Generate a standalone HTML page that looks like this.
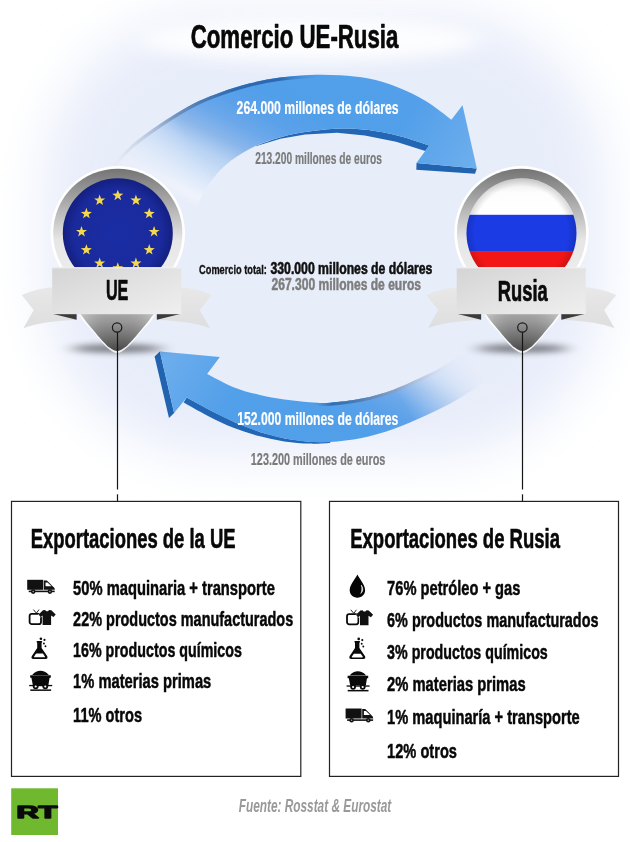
<!DOCTYPE html>
<html lang="es"><head><meta charset="utf-8"><title>Comercio UE-Rusia</title>
<style>
html,body{margin:0;padding:0;background:#fff;}
body{width:630px;height:842px;overflow:hidden;font-family:"Liberation Sans",sans-serif;}
svg{display:block;}
text{white-space:pre;}
</style></head><body>
<svg width="630" height="842" viewBox="0 0 630 842" font-family="'Liberation Sans', sans-serif">
<defs>
<radialGradient id="bg" cx="0" cy="0" r="1" gradientUnits="userSpaceOnUse" gradientTransform="translate(328 216) scale(295 268)">
<stop offset="0" stop-color="#e7ecf9"/><stop offset="0.6" stop-color="#e9eefa"/><stop offset="0.8" stop-color="#f0f3fb"/><stop offset="0.93" stop-color="#fafbfe"/><stop offset="1" stop-color="#ffffff"/>
</radialGradient>
<filter id="blur4" x="-50%" y="-300%" width="200%" height="700%"><feGaussianBlur stdDeviation="8 3"/></filter>
<filter id="blur12" x="-50%" y="-100%" width="200%" height="300%"><feGaussianBlur stdDeviation="12 8"/></filter>
<linearGradient id="tail" x1="0" y1="0" x2="0" y2="1"><stop offset="0" stop-color="#e8e8e8"/><stop offset="1" stop-color="#dedede"/></linearGradient>
<linearGradient id="pinbody" x1="0" y1="310" x2="0" y2="351" gradientUnits="userSpaceOnUse"><stop offset="0" stop-color="#bdbdbd"/><stop offset="0.3" stop-color="#a2a2a2"/><stop offset="0.7" stop-color="#747474"/><stop offset="1" stop-color="#4e4e4e"/></linearGradient>
<linearGradient id="ring" x1="0" y1="0" x2="0" y2="1"><stop offset="0" stop-color="#747474"/><stop offset="0.25" stop-color="#a8a8a8"/><stop offset="0.55" stop-color="#e6e6e6"/><stop offset="1" stop-color="#f2f2f2"/></linearGradient>
<radialGradient id="eublue" cx="0.5" cy="0.5" r="0.5"><stop offset="0" stop-color="#1b2da4"/><stop offset="0.8" stop-color="#1a2a9c"/><stop offset="1" stop-color="#141f80"/></radialGradient>
<radialGradient id="rushade" cx="0.5" cy="0.5" r="0.5"><stop offset="0.85" stop-color="#000" stop-opacity="0"/><stop offset="1" stop-color="#000" stop-opacity="0.15"/></radialGradient>
<linearGradient id="ruwhite" x1="0" y1="0" x2="0" y2="1"><stop offset="0" stop-color="#e4e4e4"/><stop offset="0.4" stop-color="#fdfdfd"/><stop offset="1" stop-color="#fff"/></linearGradient>
<linearGradient id="banner" x1="0" y1="0" x2="1" y2="1"><stop offset="0" stop-color="#d4d4d4"/><stop offset="0.5" stop-color="#e2e2e2"/><stop offset="1" stop-color="#efefef"/></linearGradient>
<clipPath id="ruclip"><circle cx="521.5" cy="233.3" r="55"/></clipPath>
<linearGradient id="a1" x1="150" y1="186.1" x2="238.9" y2="8.4" gradientUnits="userSpaceOnUse"><stop offset="0" stop-color="#fff" stop-opacity="0"/><stop offset="0.05" stop-color="#fff" stop-opacity="0.5"/><stop offset="0.1" stop-color="#e4eefb" stop-opacity="0.9"/><stop offset="0.29" stop-color="#b4d0f2"/><stop offset="0.38" stop-color="#8ab6ea"/><stop offset="0.475" stop-color="#6ba8ea"/><stop offset="0.565" stop-color="#5ba1e9"/><stop offset="0.675" stop-color="#529fe9"/><stop offset="1" stop-color="#539fea"/></linearGradient>
<linearGradient id="a1d" x1="105" y1="0" x2="325" y2="0" gradientUnits="userSpaceOnUse"><stop offset="0" stop-color="#b0b8c8" stop-opacity="0"/><stop offset="0.1" stop-color="#a8b2c6" stop-opacity="0.6"/><stop offset="0.25" stop-color="#879fc4" stop-opacity="0.9"/><stop offset="0.42" stop-color="#4f7db4"/><stop offset="0.6" stop-color="#2c69b2"/><stop offset="0.8" stop-color="#2c69b2"/><stop offset="1" stop-color="#4c9be8" stop-opacity="0"/></linearGradient>
<linearGradient id="a2" x1="480" y1="334.4" x2="391.1" y2="512.1" gradientUnits="userSpaceOnUse"><stop offset="0" stop-color="#fff" stop-opacity="0"/><stop offset="0.05" stop-color="#fff" stop-opacity="0.5"/><stop offset="0.1" stop-color="#e4eefb" stop-opacity="0.9"/><stop offset="0.29" stop-color="#b4d0f2"/><stop offset="0.38" stop-color="#8ab6ea"/><stop offset="0.475" stop-color="#6ba8ea"/><stop offset="0.565" stop-color="#5ba1e9"/><stop offset="0.675" stop-color="#529fe9"/><stop offset="1" stop-color="#539fea"/></linearGradient>
<linearGradient id="a2d" x1="452" y1="0" x2="310" y2="0" gradientUnits="userSpaceOnUse"><stop offset="0" stop-color="#b0b8c8" stop-opacity="0"/><stop offset="0.2" stop-color="#a4b0c6" stop-opacity="0.55"/><stop offset="0.45" stop-color="#7f9ac2" stop-opacity="0.9"/><stop offset="0.65" stop-color="#4f7db4"/><stop offset="0.85" stop-color="#2f6db5"/><stop offset="1" stop-color="#4c9be8" stop-opacity="0"/></linearGradient>
<linearGradient id="hl1" x1="405" y1="120" x2="475" y2="165" gradientUnits="userSpaceOnUse"><stop offset="0" stop-color="#fff" stop-opacity="0"/><stop offset="1" stop-color="#fff" stop-opacity="0.16"/></linearGradient>
<linearGradient id="hl2" x1="230" y1="400" x2="162" y2="356" gradientUnits="userSpaceOnUse"><stop offset="0" stop-color="#fff" stop-opacity="0"/><stop offset="1" stop-color="#fff" stop-opacity="0.16"/></linearGradient>
<linearGradient id="mg1" x1="118" y1="188" x2="190" y2="140" gradientUnits="userSpaceOnUse"><stop offset="0" stop-color="#000"/><stop offset="1" stop-color="#fff"/></linearGradient>
<linearGradient id="mg2" x1="478" y1="368" x2="408" y2="411" gradientUnits="userSpaceOnUse"><stop offset="0" stop-color="#000"/><stop offset="1" stop-color="#fff"/></linearGradient>
<mask id="m1" maskUnits="userSpaceOnUse" x="0" y="0" width="630" height="520"><rect width="630" height="520" fill="url(#mg1)"/></mask>
<mask id="m2" maskUnits="userSpaceOnUse" x="0" y="0" width="630" height="520"><rect width="630" height="520" fill="url(#mg2)"/></mask>
<linearGradient id="pinside" x1="0" y1="0" x2="1" y2="0"><stop offset="0" stop-color="#fff" stop-opacity="0.25"/><stop offset="0.45" stop-color="#000" stop-opacity="0.08"/><stop offset="0.55" stop-color="#000" stop-opacity="0.08"/><stop offset="1" stop-color="#fff" stop-opacity="0.2"/></linearGradient>
<filter id="blur22" x="-20%" y="-20%" width="140%" height="140%"><feGaussianBlur stdDeviation="25"/></filter>
<clipPath id="bgclip"><rect x="0" y="0" width="630" height="560"/></clipPath>
</defs>
<rect width="630" height="842" fill="#fff"/>
<g clip-path="url(#bgclip)"><rect x="44" y="12" width="560" height="444" rx="170" ry="170" fill="#e8edfa" filter="url(#blur22)"/></g>
<ellipse cx="310" cy="40" rx="170" ry="22" fill="#fff" opacity="0.9" filter="url(#blur12)"/>

<g mask="url(#m1)">
<path d="M429.2,145.5 C424.3,143.9 410.1,138.8 400,136.2 C389.9,133.6 378.6,131.3 368.6,130 C358.6,128.7 350.3,128.2 340,128.5 C329.7,128.8 316.7,130.4 307,131.8 C297.3,133.2 290.1,134.7 281.6,137 C273.1,139.3 260.4,144.2 256.2,145.6 L255.7,146.3 L280.4,138.7 L305,134.6 L337.1,132.7 L364.8,135.4 L396.1,141.7 L425.3,151 Z" fill="#2266b4"/>
<path d="M416.5,162.9 L476.8,168.6 L475,173.8 L416.3,169.8 Z" fill="#2163ae"/>
<path d="M100,178 C102.8,175 111.3,165.6 116.7,160 C122.1,154.4 125.9,149.8 132.2,144.4 C138.5,139 147,133 154.4,127.8 C161.8,122.6 169.3,117.8 176.7,113.3 C184.1,108.8 191.5,104.6 198.9,101.1 C206.3,97.6 212.6,95.2 221.1,92.2 C229.6,89.2 240.2,85.7 250,83.3 C259.8,80.9 270,79 280,77.6 C290,76.2 300,75.4 310,75 C320,74.6 330.2,74.7 340,75.3 C349.8,75.9 359.1,76.6 368.6,78.6 C378.1,80.5 387.5,83.3 397,87 C406.5,90.7 416.6,95.5 425.7,101 C434.8,106.5 447.1,116.6 451.4,119.7 L462.5,105.3 L476.8,168.6 L416.5,162.9 L429.2,145.5 C424.3,143.9 410.1,138.8 400,136.2 C389.9,133.6 378.6,131.3 368.6,130 C358.6,128.7 350.3,128.2 340,128.5 C329.7,128.8 316.7,130.4 307,131.8 C297.3,133.2 290.1,134.7 281.6,137 C273.1,139.3 264.7,141.6 256.2,145.6 C247.7,149.6 238,155.3 230.8,160.8 C223.6,166.3 218.1,172.2 213,178.6 C207.9,184.9 204.1,191.3 200.3,198.9 C196.5,206.5 192.6,216.3 190,224 C187.4,231.7 185.8,241.5 185,245 Z" fill="url(#a1)"/>
<clipPath id="cs1"><path d="M100,178 C102.8,175 111.3,165.6 116.7,160 C122.1,154.4 125.9,149.8 132.2,144.4 C138.5,139 147,133 154.4,127.8 C161.8,122.6 169.3,117.8 176.7,113.3 C184.1,108.8 191.5,104.6 198.9,101.1 C206.3,97.6 212.6,95.2 221.1,92.2 C229.6,89.2 240.2,85.7 250,83.3 C259.8,80.9 270,79 280,77.6 C290,76.2 300,75.4 310,75 C320,74.6 330.2,74.7 340,75.3 C349.8,75.9 359.1,76.6 368.6,78.6 C378.1,80.5 387.5,83.3 397,87 C406.5,90.7 416.6,95.5 425.7,101 C434.8,106.5 447.1,116.6 451.4,119.7 L462.5,105.3 L476.8,168.6 L416.5,162.9 L429.2,145.5 C424.3,143.9 410.1,138.8 400,136.2 C389.9,133.6 378.6,131.3 368.6,130 C358.6,128.7 350.3,128.2 340,128.5 C329.7,128.8 316.7,130.4 307,131.8 C297.3,133.2 290.1,134.7 281.6,137 C273.1,139.3 264.7,141.6 256.2,145.6 C247.7,149.6 238,155.3 230.8,160.8 C223.6,166.3 218.1,172.2 213,178.6 C207.9,184.9 204.1,191.3 200.3,198.9 C196.5,206.5 192.6,216.3 190,224 C187.4,231.7 185.8,241.5 185,245 Z"/></clipPath>
<path d="M100,178 C102.8,175 111.3,165.6 116.7,160 C122.1,154.4 125.9,149.8 132.2,144.4 C138.5,139 147,133 154.4,127.8 C161.8,122.6 169.3,117.8 176.7,113.3 C184.1,108.8 191.5,104.6 198.9,101.1 C206.3,97.6 212.6,95.2 221.1,92.2 C229.6,89.2 240.2,85.7 250,83.3 C259.8,80.9 270,79 280,77.6 C290,76.2 300,75.4 310,75 C320,74.6 335,75.2 340,75.3" fill="none" stroke="url(#a1d)" stroke-width="6.4" clip-path="url(#cs1)"/>
<path d="M100,178 C102.8,175 111.3,165.6 116.7,160 C122.1,154.4 125.9,149.8 132.2,144.4 C138.5,139 147,133 154.4,127.8 C161.8,122.6 169.3,117.8 176.7,113.3 C184.1,108.8 191.5,104.6 198.9,101.1 C206.3,97.6 212.6,95.2 221.1,92.2 C229.6,89.2 240.2,85.7 250,83.3 C259.8,80.9 270,79 280,77.6 C290,76.2 300,75.4 310,75 C320,74.6 330.2,74.7 340,75.3 C349.8,75.9 359.1,76.6 368.6,78.6 C378.1,80.5 387.5,83.3 397,87 C406.5,90.7 416.6,95.5 425.7,101 C434.8,106.5 447.1,116.6 451.4,119.7 L462.5,105.3 L476.8,168.6 L416.5,162.9 L429.2,145.5 C424.3,143.9 410.1,138.8 400,136.2 C389.9,133.6 378.6,131.3 368.6,130 C358.6,128.7 350.3,128.2 340,128.5 C329.7,128.8 316.7,130.4 307,131.8 C297.3,133.2 290.1,134.7 281.6,137 C273.1,139.3 264.7,141.6 256.2,145.6 C247.7,149.6 238,155.3 230.8,160.8 C223.6,166.3 218.1,172.2 213,178.6 C207.9,184.9 204.1,191.3 200.3,198.9 C196.5,206.5 192.6,216.3 190,224 C187.4,231.7 185.8,241.5 185,245 Z" fill="url(#hl1)"/>
</g>
<g mask="url(#m2)">
<path d="M330,442.9 C326.6,443 317.3,443.9 309.7,443.6 C302.1,443.4 292.8,442.7 284.3,441.4 C275.8,440.1 267.4,438.3 258.9,436 C250.4,433.7 242,431.1 233.5,427.8 C225,424.5 216.3,420.2 208,416 C199.7,411.8 187.7,404.8 183.6,402.6 L186.7,397.4 L211.1,410.8 L236.3,423.1 L261.1,432.4 L285.9,438.8 L310.7,442 L330.5,442.1 Z" fill="#2266b4"/>
<path d="M159.9,351.4 L154.6,356.5 L169,417.9 L174.1,413 Z" fill="#2163ae"/>
<path d="M462,354 L505,365 C501.2,367.9 490.4,376.6 482.4,382.4 C474.4,388.2 466.5,394.2 457,399.8 C447.5,405.4 435.8,410.8 425.2,415.7 C414.6,420.6 404.1,425.3 393.5,429 C382.9,432.7 372.2,435.8 361.7,438 C351.2,440.2 339,441.4 330.5,442.1 C322,442.8 318.1,442.5 310.7,442 C303.2,441.4 294.1,440.4 285.9,438.8 C277.6,437.2 269.3,435 261.1,432.4 C252.8,429.8 244.6,426.7 236.3,423.1 C228,419.5 219.4,415.1 211.1,410.8 C202.9,406.5 190.8,399.6 186.7,397.4 L174.1,413 L159.9,351.4 L219.8,357.1 L207.1,374 C211.5,376.2 224.9,383.7 233.5,387.2 C242.1,390.7 250.4,392.7 258.9,394.8 C267.4,396.9 275.8,398.4 284.3,399.6 C292.8,400.8 302.1,401.7 309.7,402.2 C317.3,402.7 321.3,403.3 330,402.7 C338.7,402.1 351.1,400.8 361.7,398.6 C372.3,396.4 382.9,393.6 393.5,389.7 C404.1,385.8 417.3,379.2 425.2,375.5 C433.1,371.8 434.9,371.1 441,367.5 C447.1,363.9 458.5,356.2 462,354 Z" fill="url(#a2)"/>
<clipPath id="cs2"><path d="M462,354 L505,365 C501.2,367.9 490.4,376.6 482.4,382.4 C474.4,388.2 466.5,394.2 457,399.8 C447.5,405.4 435.8,410.8 425.2,415.7 C414.6,420.6 404.1,425.3 393.5,429 C382.9,432.7 372.2,435.8 361.7,438 C351.2,440.2 339,441.4 330.5,442.1 C322,442.8 318.1,442.5 310.7,442 C303.2,441.4 294.1,440.4 285.9,438.8 C277.6,437.2 269.3,435 261.1,432.4 C252.8,429.8 244.6,426.7 236.3,423.1 C228,419.5 219.4,415.1 211.1,410.8 C202.9,406.5 190.8,399.6 186.7,397.4 L174.1,413 L159.9,351.4 L219.8,357.1 L207.1,374 C211.5,376.2 224.9,383.7 233.5,387.2 C242.1,390.7 250.4,392.7 258.9,394.8 C267.4,396.9 275.8,398.4 284.3,399.6 C292.8,400.8 302.1,401.7 309.7,402.2 C317.3,402.7 321.3,403.3 330,402.7 C338.7,402.1 351.1,400.8 361.7,398.6 C372.3,396.4 382.9,393.6 393.5,389.7 C404.1,385.8 417.3,379.2 425.2,375.5 C433.1,371.8 434.9,371.1 441,367.5 C447.1,363.9 458.5,356.2 462,354 Z"/></clipPath>
<path d="M284.3,399.6 C288.5,400 302.1,401.7 309.7,402.2 C317.3,402.7 321.3,403.3 330,402.7 C338.7,402.1 351.1,400.8 361.7,398.6 C372.3,396.4 382.9,393.6 393.5,389.7 C404.1,385.8 417.3,379.2 425.2,375.5 C433.1,371.8 434.9,371.1 441,367.5 C447.1,363.9 458.5,356.2 462,354" fill="none" stroke="url(#a2d)" stroke-width="6" clip-path="url(#cs2)"/>
<path d="M462,354 L505,365 C501.2,367.9 490.4,376.6 482.4,382.4 C474.4,388.2 466.5,394.2 457,399.8 C447.5,405.4 435.8,410.8 425.2,415.7 C414.6,420.6 404.1,425.3 393.5,429 C382.9,432.7 372.2,435.8 361.7,438 C351.2,440.2 339,441.4 330.5,442.1 C322,442.8 318.1,442.5 310.7,442 C303.2,441.4 294.1,440.4 285.9,438.8 C277.6,437.2 269.3,435 261.1,432.4 C252.8,429.8 244.6,426.7 236.3,423.1 C228,419.5 219.4,415.1 211.1,410.8 C202.9,406.5 190.8,399.6 186.7,397.4 L174.1,413 L159.9,351.4 L219.8,357.1 L207.1,374 C211.5,376.2 224.9,383.7 233.5,387.2 C242.1,390.7 250.4,392.7 258.9,394.8 C267.4,396.9 275.8,398.4 284.3,399.6 C292.8,400.8 302.1,401.7 309.7,402.2 C317.3,402.7 321.3,403.3 330,402.7 C338.7,402.1 351.1,400.8 361.7,398.6 C372.3,396.4 382.9,393.6 393.5,389.7 C404.1,385.8 417.3,379.2 425.2,375.5 C433.1,371.8 434.9,371.1 441,367.5 C447.1,363.9 458.5,356.2 462,354 Z" fill="url(#hl2)"/>
</g>
<g>
<ellipse cx="117.1" cy="348.5" rx="46" ry="4" fill="#000" opacity="0.5" filter="url(#blur4)"/>
<path d="M52.7,287.3 Q36.7,288.5 21.7,295 L33.7,310 L23.4,328.3 Q41.7,321 76.4,320 L76.4,300 Z" fill="url(#tail)"/>
<path d="M180.7,287.3 Q196.7,288.5 211.7,295 L199.7,310 L210,328.3 Q191.7,321 157,320 L157,300 Z" fill="url(#tail)"/>
<path d="M77.5,310.7 C78.4,312.3 80.8,317.5 82.9,320.5 C85,323.5 87.7,326 90,328.6 C92.3,331.2 94.6,333.6 96.7,336 C98.7,338.4 100.3,340.8 102.5,343.1 C104.6,345.4 106.9,347.9 109.4,349.6 C111.8,351.3 114.5,353.2 117.1,353.2 C119.7,353.2 122.4,351.3 124.8,349.6 C127.3,347.9 129.6,345.4 131.7,343.1 C133.9,340.8 135.5,338.4 137.5,336 C139.6,333.6 141.9,331.2 144.2,328.6 C146.5,326 149.2,323.5 151.3,320.5 C153.4,317.5 155.8,312.3 156.7,310.7 Z" fill="#fff" opacity="0.85"/>
<path d="M80.3,313.7 C81.1,314.8 83.4,318 85.3,320.5 C87.2,323 89.8,326 91.9,328.6 C94,331.2 96.2,333.8 98.1,336 C100,338.2 101.5,339.9 103.5,341.9 C105.5,343.9 107.6,346.3 109.9,347.8 C112.2,349.3 114.7,351 117.1,351 C119.5,351 122,349.3 124.3,347.8 C126.6,346.3 128.7,343.9 130.7,341.9 C132.7,339.9 134.2,338.2 136.1,336 C138,333.8 140.2,331.2 142.3,328.6 C144.4,326 147,323 148.9,320.5 C150.8,318 153.1,314.8 153.9,313.7 Z" fill="url(#pinbody)"/>
<path d="M80.3,313.7 C81.1,314.8 83.4,318 85.3,320.5 C87.2,323 89.8,326 91.9,328.6 C94,331.2 96.2,333.8 98.1,336 C100,338.2 101.5,339.9 103.5,341.9 C105.5,343.9 107.6,346.3 109.9,347.8 C112.2,349.3 114.7,351 117.1,351 C119.5,351 122,349.3 124.3,347.8 C126.6,346.3 128.7,343.9 130.7,341.9 C132.7,339.9 134.2,338.2 136.1,336 C138,333.8 140.2,331.2 142.3,328.6 C144.4,326 147,323 148.9,320.5 C150.8,318 153.1,314.8 153.9,313.7 Z" fill="url(#pinside)"/>
<path d="M52.2,313.7 L76.6,313.7 L76.6,319.8 Z" fill="#3a3a3a"/>
<path d="M181.2,313.7 L156.8,313.7 L156.8,319.8 Z" fill="#3a3a3a"/>
<circle cx="117.8" cy="233.3" r="67.2" fill="#fff"/>
<circle cx="117.8" cy="233.3" r="64.6" fill="url(#ring)"/>
<circle cx="117.8" cy="233.3" r="55" fill="url(#eublue)"/>
<g fill="#f4d94c">
<polygon points="117.8,189.7 119.2,193.6 123.3,193.7 120.0,196.2 121.2,200.2 117.8,197.8 114.4,200.2 115.6,196.2 112.3,193.7 116.4,193.6"/>
<polygon points="135.9,194.6 137.3,198.5 141.5,198.6 138.2,201.1 139.4,205.1 135.9,202.7 132.5,205.1 133.7,201.1 130.4,198.6 134.6,198.5"/>
<polygon points="149.2,207.8 150.6,211.8 154.8,211.9 151.4,214.4 152.6,218.3 149.2,216.0 145.8,218.3 147.0,214.4 143.7,211.9 147.9,211.8"/>
<polygon points="154.1,226.0 155.5,229.9 159.6,230.0 156.3,232.5 157.5,236.5 154.1,234.1 150.7,236.5 151.9,232.5 148.6,230.0 152.7,229.9"/>
<polygon points="149.2,244.1 150.6,248.1 154.8,248.2 151.4,250.7 152.6,254.6 149.2,252.3 145.8,254.6 147.0,250.7 143.7,248.2 147.9,248.1"/>
<polygon points="135.9,257.4 137.3,261.4 141.5,261.4 138.2,264.0 139.4,267.9 135.9,265.6 132.5,267.9 133.7,264.0 130.4,261.4 134.6,261.4"/>
<polygon points="117.8,262.3 119.2,266.2 123.3,266.3 120.0,268.8 121.2,272.8 117.8,270.4 114.4,272.8 115.6,268.8 112.3,266.3 116.4,266.2"/>
<polygon points="99.7,257.4 101.0,261.4 105.2,261.4 101.9,264.0 103.1,267.9 99.7,265.6 96.2,267.9 97.4,264.0 94.1,261.4 98.3,261.4"/>
<polygon points="86.4,244.2 87.7,248.1 91.9,248.2 88.6,250.7 89.8,254.6 86.4,252.3 83.0,254.6 84.2,250.7 80.8,248.2 85.0,248.1"/>
<polygon points="81.5,226.0 82.9,229.9 87.0,230.0 83.7,232.5 84.9,236.5 81.5,234.1 78.1,236.5 79.3,232.5 76.0,230.0 80.1,229.9"/>
<polygon points="86.4,207.8 87.7,211.8 91.9,211.9 88.6,214.4 89.8,218.3 86.4,216.0 83.0,218.3 84.2,214.4 80.8,211.9 85.0,211.8"/>
<polygon points="99.6,194.6 101.0,198.5 105.2,198.6 101.9,201.1 103.1,205.1 99.6,202.7 96.2,205.1 97.4,201.1 94.1,198.6 98.3,198.5"/>
</g>
<rect x="52.2" y="267.3" width="129" height="46.9" fill="url(#banner)"/>
<rect x="52.2" y="267.3" width="129" height="1" fill="#f4f4f4"/>
<circle cx="117.1" cy="327.5" r="4.7" fill="none" stroke="#1a1a1a" stroke-width="1.2"/>
<rect x="116.9" y="332.2" width="1.2" height="157.3" fill="#151515"/>
<rect x="116.9" y="494.3" width="1.2" height="7" fill="#151515"/>
</g>
<g>
<ellipse cx="522.4" cy="348.5" rx="46" ry="4" fill="#000" opacity="0.5" filter="url(#blur4)"/>
<path d="M457.2,287.3 Q441.2,288.5 426.2,295 L438.2,310 L427.9,328.3 Q446.2,321 480.9,320 L480.9,300 Z" fill="url(#tail)"/>
<path d="M585.2,287.3 Q601.2,288.5 616.2,295 L604.2,310 L614.5,328.3 Q596.2,321 561.5,320 L561.5,300 Z" fill="url(#tail)"/>
<path d="M482.8,310.7 C483.7,312.3 486.1,317.5 488.2,320.5 C490.3,323.5 493,326 495.3,328.6 C497.6,331.2 499.9,333.6 502,336 C504,338.4 505.6,340.8 507.8,343.1 C509.9,345.4 512.2,347.9 514.7,349.6 C517.1,351.3 519.8,353.2 522.4,353.2 C525,353.2 527.7,351.3 530.1,349.6 C532.6,347.9 534.9,345.4 537,343.1 C539.2,340.8 540.8,338.4 542.8,336 C544.9,333.6 547.2,331.2 549.5,328.6 C551.8,326 554.5,323.5 556.6,320.5 C558.7,317.5 561.1,312.3 562,310.7 Z" fill="#fff" opacity="0.85"/>
<path d="M485.6,313.7 C486.4,314.8 488.7,318 490.6,320.5 C492.5,323 495.1,326 497.2,328.6 C499.3,331.2 501.5,333.8 503.4,336 C505.3,338.2 506.8,339.9 508.8,341.9 C510.8,343.9 512.9,346.3 515.2,347.8 C517.5,349.3 520,351 522.4,351 C524.8,351 527.3,349.3 529.6,347.8 C531.9,346.3 534,343.9 536,341.9 C538,339.9 539.5,338.2 541.4,336 C543.3,333.8 545.5,331.2 547.6,328.6 C549.7,326 552.3,323 554.2,320.5 C556.1,318 558.4,314.8 559.2,313.7 Z" fill="url(#pinbody)"/>
<path d="M485.6,313.7 C486.4,314.8 488.7,318 490.6,320.5 C492.5,323 495.1,326 497.2,328.6 C499.3,331.2 501.5,333.8 503.4,336 C505.3,338.2 506.8,339.9 508.8,341.9 C510.8,343.9 512.9,346.3 515.2,347.8 C517.5,349.3 520,351 522.4,351 C524.8,351 527.3,349.3 529.6,347.8 C531.9,346.3 534,343.9 536,341.9 C538,339.9 539.5,338.2 541.4,336 C543.3,333.8 545.5,331.2 547.6,328.6 C549.7,326 552.3,323 554.2,320.5 C556.1,318 558.4,314.8 559.2,313.7 Z" fill="url(#pinside)"/>
<path d="M456.7,313.7 L481.1,313.7 L481.1,319.8 Z" fill="#3a3a3a"/>
<path d="M585.7,313.7 L561.3,313.7 L561.3,319.8 Z" fill="#3a3a3a"/>
<circle cx="521.5" cy="233.3" r="67.2" fill="#fff"/>
<circle cx="521.5" cy="233.3" r="64.6" fill="url(#ring)"/>
<g clip-path="url(#ruclip)"><rect x="465.2" y="177.3" width="112" height="38" fill="url(#ruwhite)"/><rect x="465.2" y="214.8" width="112" height="37" fill="#1b3be4"/><rect x="465.2" y="251.6" width="112" height="40" fill="#f31616"/><circle cx="521.2" cy="233.3" r="55" fill="url(#rushade)"/></g>
<rect x="456.7" y="267.3" width="129" height="46.9" fill="url(#banner)"/>
<rect x="456.7" y="267.3" width="129" height="1" fill="#f4f4f4"/>
<circle cx="522.4" cy="327.5" r="4.7" fill="none" stroke="#1a1a1a" stroke-width="1.2"/>
<rect x="521.9" y="332.2" width="1.2" height="157.3" fill="#151515"/>
<rect x="521.9" y="494.3" width="1.2" height="7" fill="#151515"/>
</g>
<text x="190.7" y="47.6" font-size="32.46" font-weight="bold" font-style="normal" fill="#080808" textLength="207.7" lengthAdjust="spacingAndGlyphs" stroke="#080808" stroke-width="0.7" stroke-linejoin="round">Comercio UE-Rusia</text>
<text x="236.6" y="114.4" font-size="18.12" font-weight="bold" font-style="normal" fill="#fff" textLength="162.0" lengthAdjust="spacingAndGlyphs" stroke="#fff" stroke-width="0.2" stroke-linejoin="round">264.000 millones de dólares</text>
<text x="255.2" y="163.6" font-size="16.23" font-weight="bold" font-style="normal" fill="#7a7a7a" textLength="126.7" lengthAdjust="spacingAndGlyphs" stroke="#7a7a7a" stroke-width="0.2" stroke-linejoin="round">213.200 millones de euros</text>
<text x="199.1" y="273.9" font-size="13.48" font-weight="bold" font-style="normal" fill="#111" textLength="67.7" lengthAdjust="spacingAndGlyphs" stroke="#111" stroke-width="0.35" stroke-linejoin="round">Comercio total:</text>
<text x="270.5" y="273.9" font-size="15.80" font-weight="bold" font-style="normal" fill="#111" textLength="161.8" lengthAdjust="spacingAndGlyphs" stroke="#111" stroke-width="0.6" stroke-linejoin="round">330.000 millones de dólares</text>
<text x="271.5" y="290.0" font-size="15.80" font-weight="bold" font-style="normal" fill="#7d7d7d" textLength="149.5" lengthAdjust="spacingAndGlyphs" stroke="#7d7d7d" stroke-width="0.5" stroke-linejoin="round">267.300 millones de euros</text>
<text x="237.3" y="424.5" font-size="18.12" font-weight="bold" font-style="normal" fill="#fff" textLength="161.1" lengthAdjust="spacingAndGlyphs" stroke="#fff" stroke-width="0.2" stroke-linejoin="round">152.000 millones de dólares</text>
<text x="250.8" y="464.7" font-size="15.94" font-weight="bold" font-style="normal" fill="#7a7a7a" textLength="134.6" lengthAdjust="spacingAndGlyphs" stroke="#7a7a7a" stroke-width="0.2" stroke-linejoin="round">123.200 millones de euros</text>
<text x="105.9" y="300.0" font-size="28.70" font-weight="bold" font-style="normal" fill="#0a0a0a" textLength="22.5" lengthAdjust="spacingAndGlyphs" stroke="#0a0a0a" stroke-width="0.7" stroke-linejoin="round">UE</text>
<text x="497.7" y="300.7" font-size="28.70" font-weight="bold" font-style="normal" fill="#0a0a0a" textLength="50.0" lengthAdjust="spacingAndGlyphs" stroke="#0a0a0a" stroke-width="0.7" stroke-linejoin="round">Rusia</text>
<rect x="11.5" y="501.4" width="289.3" height="275" fill="#fff" stroke="#222" stroke-width="1.2"/>
<rect x="329.5" y="501.4" width="289" height="275" fill="#fff" stroke="#222" stroke-width="1.2"/>
<text x="30.7" y="547.9" font-size="27.25" font-weight="bold" font-style="normal" fill="#080808" textLength="204.9" lengthAdjust="spacingAndGlyphs" stroke="#080808" stroke-width="0.6" stroke-linejoin="round">Exportaciones de la UE</text>
<text x="350.2" y="547.9" font-size="27.25" font-weight="bold" font-style="normal" fill="#080808" textLength="209.8" lengthAdjust="spacingAndGlyphs" stroke="#080808" stroke-width="0.6" stroke-linejoin="round">Exportaciones de Rusia</text>
<text x="73.1" y="594.8" font-size="20.87" font-weight="bold" font-style="normal" fill="#080808" textLength="201.8" lengthAdjust="spacingAndGlyphs" stroke="#080808" stroke-width="0.5" stroke-linejoin="round">50% maquinaria + transporte</text>
<text x="73.1" y="625.8" font-size="20.87" font-weight="bold" font-style="normal" fill="#080808" textLength="220.1" lengthAdjust="spacingAndGlyphs" stroke="#080808" stroke-width="0.5" stroke-linejoin="round">22% productos manufacturados</text>
<text x="73.1" y="657.0" font-size="20.87" font-weight="bold" font-style="normal" fill="#080808" textLength="168.8" lengthAdjust="spacingAndGlyphs" stroke="#080808" stroke-width="0.5" stroke-linejoin="round">16% productos químicos</text>
<text x="73.1" y="688.4" font-size="20.87" font-weight="bold" font-style="normal" fill="#080808" textLength="138.2" lengthAdjust="spacingAndGlyphs" stroke="#080808" stroke-width="0.5" stroke-linejoin="round">1% materias primas</text>
<text x="73.1" y="721.5" font-size="20.87" font-weight="bold" font-style="normal" fill="#080808" textLength="69.0" lengthAdjust="spacingAndGlyphs" stroke="#080808" stroke-width="0.5" stroke-linejoin="round">11% otros</text>
<text x="387.1" y="595.3" font-size="20.87" font-weight="bold" font-style="normal" fill="#080808" textLength="133.3" lengthAdjust="spacingAndGlyphs" stroke="#080808" stroke-width="0.5" stroke-linejoin="round">76% petróleo + gas</text>
<text x="387.1" y="627.2" font-size="20.87" font-weight="bold" font-style="normal" fill="#080808" textLength="211.4" lengthAdjust="spacingAndGlyphs" stroke="#080808" stroke-width="0.5" stroke-linejoin="round">6% productos manufacturados</text>
<text x="387.1" y="658.9" font-size="20.87" font-weight="bold" font-style="normal" fill="#080808" textLength="160.7" lengthAdjust="spacingAndGlyphs" stroke="#080808" stroke-width="0.5" stroke-linejoin="round">3% productos químicos</text>
<text x="387.1" y="691.4" font-size="20.87" font-weight="bold" font-style="normal" fill="#080808" textLength="138.5" lengthAdjust="spacingAndGlyphs" stroke="#080808" stroke-width="0.5" stroke-linejoin="round">2% materias primas</text>
<text x="387.1" y="724.0" font-size="20.87" font-weight="bold" font-style="normal" fill="#080808" textLength="192.6" lengthAdjust="spacingAndGlyphs" stroke="#080808" stroke-width="0.5" stroke-linejoin="round">1% maquinaría + transporte</text>
<text x="387.1" y="758.3" font-size="20.87" font-weight="bold" font-style="normal" fill="#080808" textLength="69.9" lengthAdjust="spacingAndGlyphs" stroke="#080808" stroke-width="0.5" stroke-linejoin="round">12% otros</text>
<g transform="translate(27.2 579.8)" fill="#111">
<rect x="0" y="0" width="16" height="10"/>
<path d="M16.6,0.6 L19.6,0.6 C21,1.8 24,5 27.3,8.3 L27.6,10 L16.6,10 Z M18.3,2.6 L18.3,6.4 L24.3,6.4 C22.5,4.6 21,3.2 20.2,2.6 Z" fill-rule="evenodd"/>
<rect x="1.5" y="10.8" width="26" height="1.6"/>
<circle cx="6" cy="11.8" r="2.3"/><circle cx="22.7" cy="11.8" r="2.3"/>
<circle cx="6" cy="11.8" r="0.8" fill="#999"/><circle cx="22.7" cy="11.8" r="0.8" fill="#999"/>
</g>
<g transform="translate(28 609.2)">
<rect x="1.6" y="4.7" width="11.4" height="10.2" rx="2.2" fill="none" stroke="#0a0a0a" stroke-width="1.8"/>
<path d="M5.4,0.4 L8.4,4 L11,0.4" fill="none" stroke="#111" stroke-width="0.9"/>
<path d="M10.6,5.4 L15,1.1 L17.2,0.8 C17.8,2.6 20.4,2.6 21,0.8 L23.3,1.1 L27.7,5.4 L25.5,7.9 L23.1,6.4 L23.1,15.9 L14.6,15.9 L14.6,6.4 L12.6,7.9 Z" fill="#111" stroke="#fff" stroke-width="0.9" paint-order="stroke"/>
</g>
<g transform="translate(31.5 637.3)" fill="#0a0a0a">
<path d="M5.2,3.6 L10.6,3.6 L10.6,5.1 L10.1,5.1 L10.1,10.6 L15.6,18.6 C16.6,20.3 15.8,21.6 14,21.6 L2,21.6 C0.2,21.6 -0.6,20.3 0.4,18.6 L5.7,10.6 L5.7,5.1 L5.2,5.1 Z"/>
<path d="M4.6,16.2 L11.4,16.2 L13.4,19.1 C13.7,19.7 13.4,20 12.8,20 L3.2,20 C2.6,20 2.3,19.7 2.6,19.1 Z" fill="#fff"/>
<circle cx="9.4" cy="1.4" r="1.3"/><circle cx="13" cy="2.6" r="1.05"/><circle cx="12.4" cy="6.2" r="0.95"/><circle cx="14" cy="9" r="0.95"/>
</g>
<g transform="translate(30 670.7)" fill="#0a0a0a">
<path d="M2.2,4.2 C4.6,1.4 7.6,0 10.4,0 C13.2,0 16.4,1.4 18.8,4.2 Z"/>
<path d="M0.2,4.6 L20.8,4.6 L20.8,7 L19.6,7 L18.4,14.4 L2.8,14.4 L1.4,7 L0.2,7 Z"/>
<rect x="-0.8" y="14.2" width="23" height="1.3"/>
<circle cx="5.7" cy="15.6" r="2.9"/><circle cx="15.3" cy="15.6" r="2.9"/>
<circle cx="5.7" cy="15.8" r="1.1" fill="#fff"/><circle cx="15.3" cy="15.8" r="1.1" fill="#fff"/>
<rect x="0.3" y="18.7" width="20.8" height="1.5"/>
</g>
<g transform="translate(349.7 574.5)" fill="#050505">
<path d="M7.7,0 C9.8,4.6 15.4,10 15.4,15.6 C15.4,20.2 12,23.2 7.7,23.2 C3.4,23.2 0,20.2 0,15.6 C0,10 5.6,4.6 7.7,0 Z"/>
<path d="M11.6,10.6 C13.6,13.5 13.8,17 11,19 C12.4,16.5 12.4,13.5 11.6,10.6 Z" fill="#fff" stroke="#fff" stroke-width="0.5"/>
</g>
<g transform="translate(345.4 609.4)">
<rect x="1.6" y="4.7" width="11.4" height="10.2" rx="2.2" fill="none" stroke="#0a0a0a" stroke-width="1.8"/>
<path d="M5.4,0.4 L8.4,4 L11,0.4" fill="none" stroke="#111" stroke-width="0.9"/>
<path d="M10.6,5.4 L15,1.1 L17.2,0.8 C17.8,2.6 20.4,2.6 21,0.8 L23.3,1.1 L27.7,5.4 L25.5,7.9 L23.1,6.4 L23.1,15.9 L14.6,15.9 L14.6,6.4 L12.6,7.9 Z" fill="#111" stroke="#fff" stroke-width="0.9" paint-order="stroke"/>
</g>
<g transform="translate(349.3 637.5)" fill="#0a0a0a">
<path d="M5.2,3.6 L10.6,3.6 L10.6,5.1 L10.1,5.1 L10.1,10.6 L15.6,18.6 C16.6,20.3 15.8,21.6 14,21.6 L2,21.6 C0.2,21.6 -0.6,20.3 0.4,18.6 L5.7,10.6 L5.7,5.1 L5.2,5.1 Z"/>
<path d="M4.6,16.2 L11.4,16.2 L13.4,19.1 C13.7,19.7 13.4,20 12.8,20 L3.2,20 C2.6,20 2.3,19.7 2.6,19.1 Z" fill="#fff"/>
<circle cx="9.4" cy="1.4" r="1.3"/><circle cx="13" cy="2.6" r="1.05"/><circle cx="12.4" cy="6.2" r="0.95"/><circle cx="14" cy="9" r="0.95"/>
</g>
<g transform="translate(347.4 671.2)" fill="#0a0a0a">
<path d="M2.2,4.2 C4.6,1.4 7.6,0 10.4,0 C13.2,0 16.4,1.4 18.8,4.2 Z"/>
<path d="M0.2,4.6 L20.8,4.6 L20.8,7 L19.6,7 L18.4,14.4 L2.8,14.4 L1.4,7 L0.2,7 Z"/>
<rect x="-0.8" y="14.2" width="23" height="1.3"/>
<circle cx="5.7" cy="15.6" r="2.9"/><circle cx="15.3" cy="15.6" r="2.9"/>
<circle cx="5.7" cy="15.8" r="1.1" fill="#fff"/><circle cx="15.3" cy="15.8" r="1.1" fill="#fff"/>
<rect x="0.3" y="18.7" width="20.8" height="1.5"/>
</g>
<g transform="translate(345.6 708.5)" fill="#111">
<rect x="0" y="0" width="16" height="10"/>
<path d="M16.6,0.6 L19.6,0.6 C21,1.8 24,5 27.3,8.3 L27.6,10 L16.6,10 Z M18.3,2.6 L18.3,6.4 L24.3,6.4 C22.5,4.6 21,3.2 20.2,2.6 Z" fill-rule="evenodd"/>
<rect x="1.5" y="10.8" width="26" height="1.6"/>
<circle cx="6" cy="11.8" r="2.3"/><circle cx="22.7" cy="11.8" r="2.3"/>
<circle cx="6" cy="11.8" r="0.8" fill="#999"/><circle cx="22.7" cy="11.8" r="0.8" fill="#999"/>
</g>
<rect x="11.2" y="788.3" width="46.8" height="46.7" fill="#70b82d"/>
<text x="16.4" y="818.0" font-size="16.38" font-weight="bold" font-style="normal" fill="#0a0a0a" textLength="40.9" lengthAdjust="spacingAndGlyphs" stroke="#0a0a0a" stroke-width="1.4" stroke-linejoin="round">RT</text>
<text x="238.7" y="812.1" font-size="18.70" font-weight="bold" font-style="italic" fill="#999" textLength="152.6" lengthAdjust="spacingAndGlyphs">Fuente: Rosstat &amp; Eurostat</text>
</svg>
</body></html>
